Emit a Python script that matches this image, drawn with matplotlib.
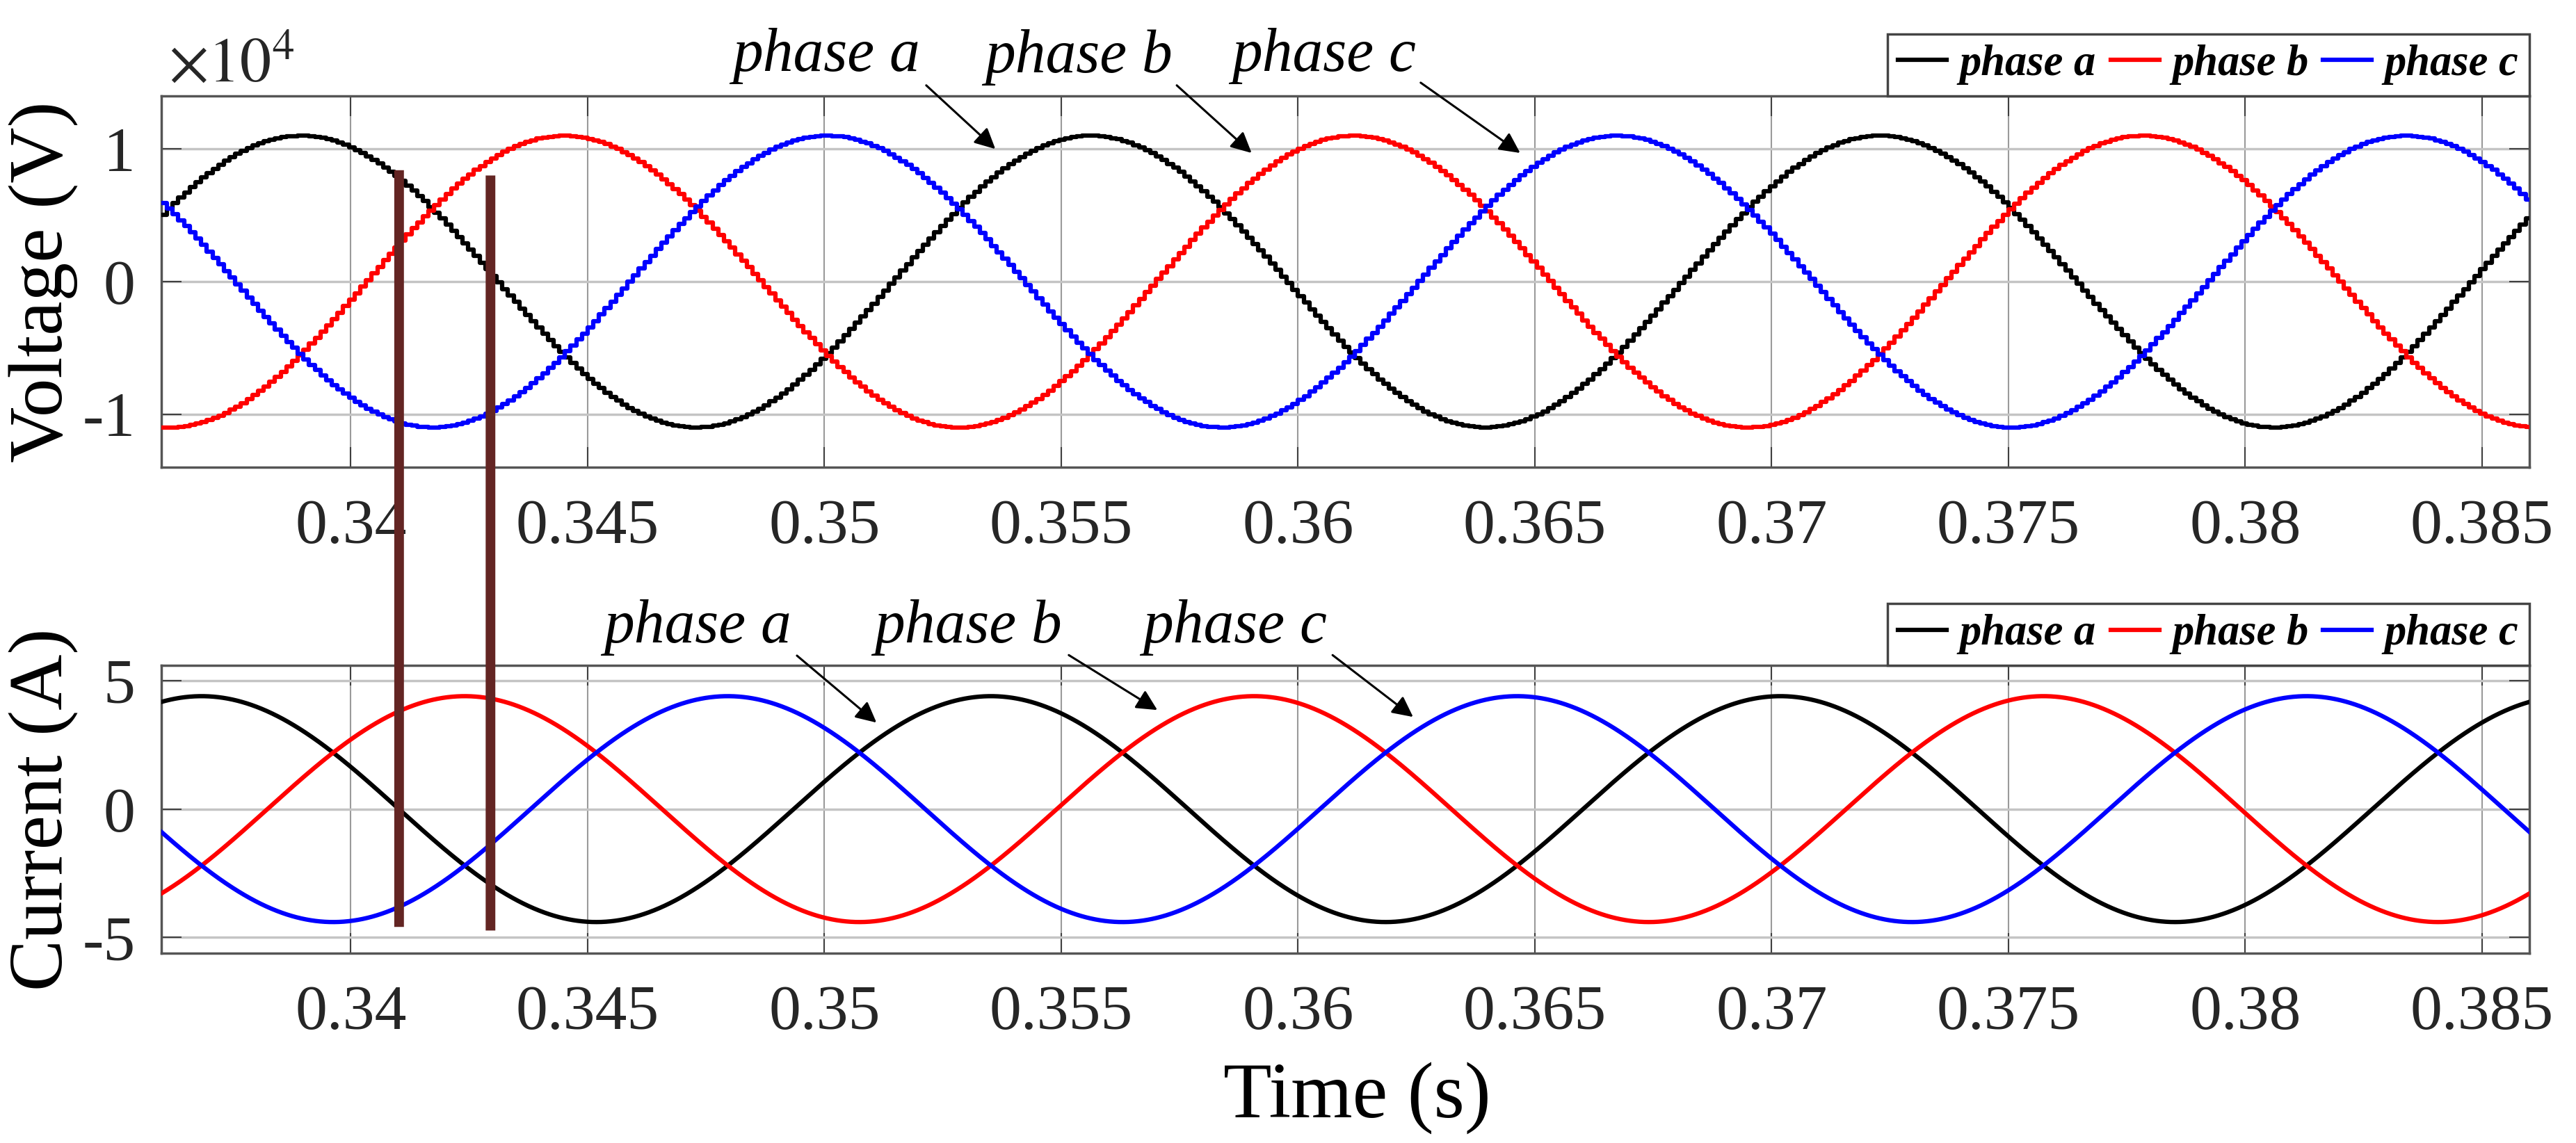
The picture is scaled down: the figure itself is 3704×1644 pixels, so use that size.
import numpy as np
import matplotlib
matplotlib.use('Agg')
import matplotlib.pyplot as plt
from matplotlib.patches import ConnectionPatch
from matplotlib.ticker import FuncFormatter

plt.rcParams['font.family'] = ['Liberation Serif', 'DejaVu Serif']
plt.rcParams['mathtext.fontset'] = 'stix'

# Dane
phase_names = ['phase a', 'phase b', 'phase c']
phase_colors = ['black', 'red', 'blue']
phase_shift_deg = [0, -120, 120]
freq_hz = 60
t_start, t_end = 0.336, 0.386

voltage_amp = 1.1e4
voltage_peak_time_a = 0.3389
voltage_step = 1.2e-4        # krok próbkowania napięcia (schodki)
current_amp = 4.4
current_peak_time_a = 0.33685

x_ticks = [0.34, 0.345, 0.35, 0.355, 0.36, 0.365, 0.37, 0.375, 0.38, 0.385]
v_ticks = [-1e4, 0, 1e4]
i_ticks = [-5, 0, 5]
v_lim = [-1.4e4, 1.4e4]
i_lim = [-5.6, 5.6]

# pionowe znaczniki (bordowe linie)
marker_times = [0.34102, 0.34295]
marker_top_v = [0.84e4, 0.80e4]
marker_bottom_i = [-4.59, -4.73]

# adnotacje: tekst, początek i koniec strzałki
v_text_xy = [(0.35004, 1.70e4), (0.35537, 1.69e4), (0.36055, 1.70e4)]
v_arrow_tail = [(0.35215, 1.48e4), (0.35744, 1.48e4), (0.36259, 1.50e4)]
v_arrow_head = [(0.35361, 1.00e4), (0.35902, 0.97e4), (0.36469, 0.97e4)]
i_text_xy = [(0.34732, 7.07), (0.35303, 7.07), (0.35867, 7.07)]
i_arrow_tail = [(0.34942, 5.98), (0.35516, 6.0), (0.36073, 6.0)]
i_arrow_head = [(0.35110, 3.37), (0.35703, 3.86), (0.36243, 3.59)]

# przebiegi trójfazowe
omega = 2 * np.pi * freq_hz
t_v = np.arange(t_start, t_end + voltage_step, voltage_step)
t_i = np.linspace(t_start, t_end, 4000)
voltages = [voltage_amp * np.cos(omega * (t_v - voltage_peak_time_a) + np.deg2rad(s)) for s in phase_shift_deg]
currents = [current_amp * np.cos(omega * (t_i - current_peak_time_a) + np.deg2rad(s)) for s in phase_shift_deg]

fig = plt.figure(figsize=(37.04, 16.44), dpi=100)
ax1 = fig.add_axes([0.06263, 0.59124, 0.91928, 0.32482])
ax2 = fig.add_axes([0.06263, 0.16636, 0.91928, 0.25152])

line_w = 4.5
for name, col, v in zip(phase_names, phase_colors, voltages):
    ax1.plot(t_v, v, color=col, lw=line_w, label=name, drawstyle='steps-post', zorder=3)
for name, col, i in zip(phase_names, phase_colors, currents):
    ax2.plot(t_i, i, color=col, lw=line_w, label=name, zorder=3)


def style_axes(ax, yticks, ylim, yfmt):
    ax.set_xlim(t_start, t_end)
    ax.set_ylim(*ylim)
    ax.set_xticks(x_ticks)
    ax.set_yticks(yticks)
    ax.xaxis.set_major_formatter(FuncFormatter(lambda v, p: f'{round(v, 4):g}'))
    ax.yaxis.set_major_formatter(FuncFormatter(yfmt))
    ax.xaxis.grid(True, color='#9a9a9a', lw=1.5, zorder=0)
    ax.yaxis.grid(True, color='#c4c4c4', lw=2.5, zorder=0)
    ax.set_axisbelow(True)
    for sp in ax.spines.values():
        sp.set_color('#555555')
        sp.set_linewidth(2.5)
    ax.tick_params(axis='both', direction='in', length=21, width=1.5, color='#404040',
                   top=True, right=True, labelsize=66, labelcolor='#262626')
    ax.tick_params(axis='x', pad=33)
    ax.tick_params(axis='y', pad=27)
    leg = ax.legend(loc='lower right', bbox_to_anchor=(1.0, 1.0), borderaxespad=0.0, ncol=3,
                    prop={'family': 'Liberation Serif', 'style': 'italic', 'weight': 'bold', 'size': 45},
                    handlelength=1.12, handletextpad=0.29, columnspacing=0.34, borderpad=0.25,
                    fancybox=False, framealpha=1.0, edgecolor='#444444')
    leg.get_frame().set_linewidth(2.5)


style_axes(ax1, v_ticks, v_lim, lambda v, p: f'{v / 1e4:g}')
style_axes(ax2, i_ticks, i_lim, lambda v, p: f'{v:g}')

ax1.text(0.003, 1.04, r'$\times10^{4}$', transform=ax1.transAxes, ha='left', va='baseline',
         fontsize=65, color='#262626')

ax1.set_ylabel('Voltage (V)', fontsize=80)
ax2.set_ylabel('Current (A)', fontsize=80)
ax1.yaxis.set_label_coords(-0.035, 0.5)
ax2.yaxis.set_label_coords(-0.035, 0.5)
ax2.set_xlabel('Time (s)', fontsize=82, va='baseline')
ax2.xaxis.set_label_coords(0.505, -0.572)

# strzałki z opisami faz
arrow_props = dict(arrowstyle='-|>', color='black', lw=2.2, mutation_scale=45, shrinkA=0, shrinkB=0)
for ax, txt, tails, heads in [(ax1, v_text_xy, v_arrow_tail, v_arrow_head),
                              (ax2, i_text_xy, i_arrow_tail, i_arrow_head)]:
    for name, xy, tail, head in zip(phase_names, txt, tails, heads):
        ax.text(xy[0], xy[1], name, ha='center', va='center', fontsize=63, style='italic',
                clip_on=False)
        ax.annotate('', xy=head, xytext=tail, arrowprops=arrow_props, annotation_clip=False)

# bordowe linie przechodzące przez oba wykresy
for tm, ytop, ybot in zip(marker_times, marker_top_v, marker_bottom_i):
    con = ConnectionPatch(xyA=(tm, ytop), coordsA=ax1.transData,
                          xyB=(tm, ybot), coordsB=ax2.transData,
                          color='#632523', lw=10, capstyle='butt', zorder=10)
    fig.add_artist(con)

fig.savefig('out.png', dpi=100)
